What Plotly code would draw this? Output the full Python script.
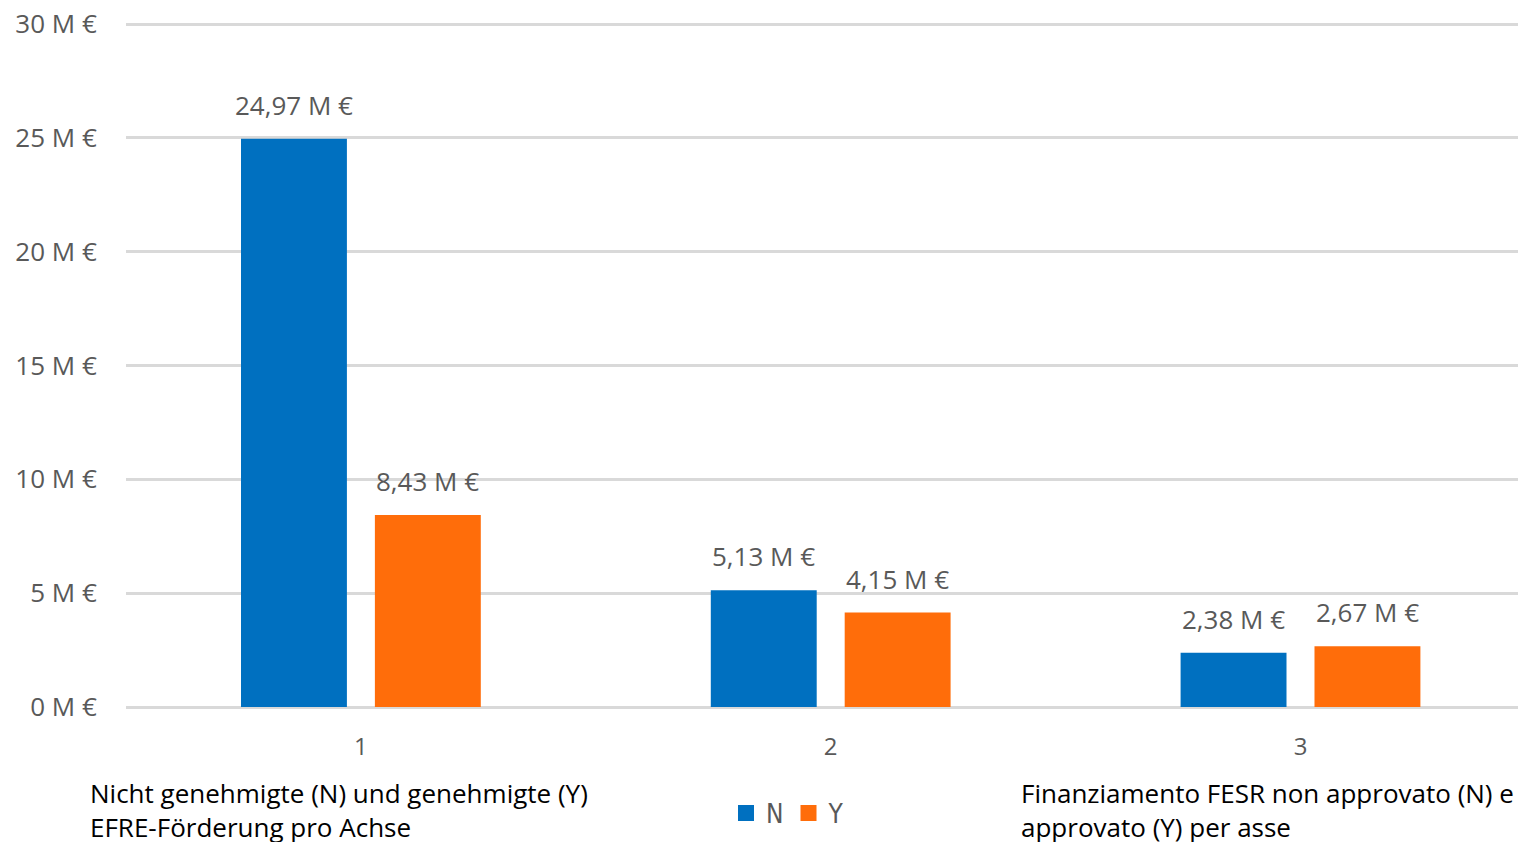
import plotly.graph_objects as go

categories = ["1", "2", "3"]
series_names = ["N", "Y"]
values_n = [24.97, 5.13, 2.38]
values_y = [8.43, 4.15, 2.67]
labels_n = ["24,97 M €", "5,13 M €", "2,38 M €"]
labels_y = ["8,43 M €", "4,15 M €", "2,67 M €"]
tick_vals = [0, 5, 10, 15, 20, 25, 30]
tick_text = ["0 M €", "5 M €", "10 M €", "15 M €", "20 M €", "25 M €", "30 M €"]

blue = "#0070C0"
orange = "#FF6D0A"
gray_text = "#595959"
grid = "#D9D9D9"
font_main = "Open Sans"

# the page body adds an 8px offset; margins compensate for it
W, H = 1526, 842
ML, MR, MT, MB = 118, 8, 15, 143
plot_w = W - ML - MR
plot_h = H - MT - MB


def px_x(screen_x):
    return (screen_x - 8 - ML) / plot_w


def px_y(screen_y):
    return 1 - (screen_y - 8 - MT) / plot_h


fig = go.Figure()
for name, vals, col in [(series_names[0], values_n, blue), (series_names[1], values_y, orange)]:
    fig.add_trace(go.Bar(
        x=categories, y=vals, name=name, marker_color=col,
        marker_line_width=0, showlegend=False,
    ))
    # legend proxies
    fig.add_trace(go.Scatter(
        x=[None], y=[None], mode="markers", name=name,
        marker=dict(symbol="square", size=16, color=col),
        showlegend=True,
    ))

# value labels above bars, anchored to the data values
for vals, labs, shift in [(values_n, labels_n, -67), (values_y, labels_y, 67)]:
    for i, (v, t) in enumerate(zip(vals, labs)):
        fig.add_annotation(
            x=i, y=v, text=t, xref="x", yref="y", showarrow=False,
            xshift=shift, yshift=14, yanchor="bottom", xanchor="center",
            font=dict(size=26, color=gray_text, family=font_main),
        )

fig.update_layout(
    width=W, height=H,
    margin=dict(l=ML, r=MR, t=MT, b=MB, autoexpand=False),
    plot_bgcolor="white", paper_bgcolor="white",
    barmode="group", bargap=0.43, bargroupgap=0.209,
    font=dict(family=font_main, color=gray_text, size=22),
    showlegend=True,
    legend=dict(
        orientation="h",
        x=px_x(726), y=px_y(813),
        xanchor="left", yanchor="middle",
        font=dict(size=26, color=gray_text, family="DejaVu Sans Condensed"),
        itemwidth=30, traceorder="normal", itemsizing="trace",
        tracegroupgap=0, bgcolor="rgba(0,0,0,0)",
    ),
)

fig.update_yaxes(
    range=[0, 30.05], tickvals=tick_vals, ticktext=tick_text,
    showgrid=True, gridcolor=grid, gridwidth=2.5,
    zeroline=True, zerolinecolor=grid, zerolinewidth=2.5,
    showline=False, ticks="outside", ticklen=23, tickcolor="rgba(0,0,0,0)",
    tickfont=dict(size=26, color=gray_text, family=font_main),
    ticklabeloverflow="allow",
)
fig.update_xaxes(
    type="category", range=[-0.5, 2.48], showgrid=False, showline=False,
    ticks="outside", ticklen=18, tickcolor="rgba(0,0,0,0)",
    tickfont=dict(size=24, color=gray_text, family=font_main),
)

fig.add_annotation(
    text="Nicht genehmigte (N) und genehmigte (Y)<br>EFRE-Förderung pro Achse",
    xref="paper", yref="paper", x=px_x(88), y=px_y(773),
    xanchor="left", yanchor="top", align="left", showarrow=False,
    font=dict(size=26, color="black", family=font_main),
)
fig.add_annotation(
    text="Finanziamento FESR non approvato (N) e<br>approvato (Y) per asse",
    xref="paper", yref="paper", x=px_x(1019), y=px_y(773),
    xanchor="left", yanchor="top", align="left", showarrow=False,
    font=dict(size=26, color="black", family=font_main),
)

fig.write_html("out.html")
